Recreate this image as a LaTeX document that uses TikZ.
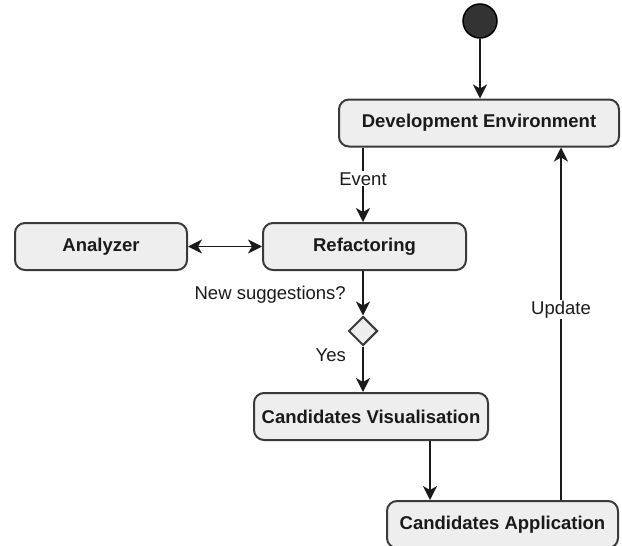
\documentclass[tikz,border=0pt]{standalone}
\usepackage{fontspec}
\setmainfont{Liberation Sans}
\usetikzlibrary{shapes.geometric,arrows.meta}
\definecolor{boxfill}{HTML}{EEEEEE}
\definecolor{boxline}{HTML}{3A3A3A}
\definecolor{txt}{HTML}{1A1A1A}
\tikzset{
  stepbox/.style={draw=boxline, line width=2pt, fill=boxfill, rounded corners=10pt,
    minimum height=47pt, inner sep=0pt, text=txt,
    font=\fontsize{18.5}{22}\selectfont\bfseries},
  conn/.style={draw=txt, line width=1.4pt, -{Stealth[length=14pt,width=14pt,inset=4pt]}},
  bconn/.style={draw=txt, line width=1.4pt, {Stealth[length=14pt,width=14pt,inset=4pt]}-{Stealth[length=14pt,width=14pt,inset=4pt]}},
  lbl/.style={text=txt, font=\fontsize{18.5}{22}\selectfont, inner sep=1pt},
}
\begin{document}
\begin{tikzpicture}[x=1pt,y=-1pt]
\useasboundingbox (0,0) rectangle (622,546);
\node[circle, draw=black, line width=1.5pt, fill=black!80, minimum size=34pt, inner sep=0pt] (start) at (480,21) {};
\node[stepbox, minimum width=280pt] (dev) at (479,123) {Development Environment};
\node[stepbox, minimum width=172pt] (ana) at (101,246.5) {Analyzer};
\node[stepbox, minimum width=203pt] (ref) at (364.5,246.5) {Refactoring};
\node[diamond, draw=boxline, line width=2pt, fill=boxfill, minimum width=29pt, minimum height=29pt, inner sep=0pt] (dec) at (363,331) {};
\node[stepbox, minimum width=234pt] (vis) at (371,416.5) {Candidates Visualisation};
\node[stepbox, minimum width=231pt] (app) at (502.5,524.5) {Candidates Application};
\node[lbl, anchor=east] (nsq) at (347,295) {New suggestions?};
\node[lbl, anchor=east] (yes) at (347,355) {Yes};

\draw[conn] (start) -- (start |- dev.north);
\draw[conn] (dev.south -| dec) -- node[lbl, fill=white, pos=0.42] {Event} (ref.north -| dec);
\draw[bconn] (ana) -- (ref);
\draw[conn] (ref.south -| dec) -- (dec.north);
\draw[conn] (dec.south) -- (dec.south |- vis.north);
\draw[conn] ([xshift=59pt]vis.south) -- ([xshift=59pt]vis.south |- app.north);
\draw[conn] ([xshift=58.5pt]app.north) -- node[lbl, fill=white, pos=0.54] {Update} ([xshift=58.5pt]app.north |- dev.south);
\end{tikzpicture}
\end{document}
